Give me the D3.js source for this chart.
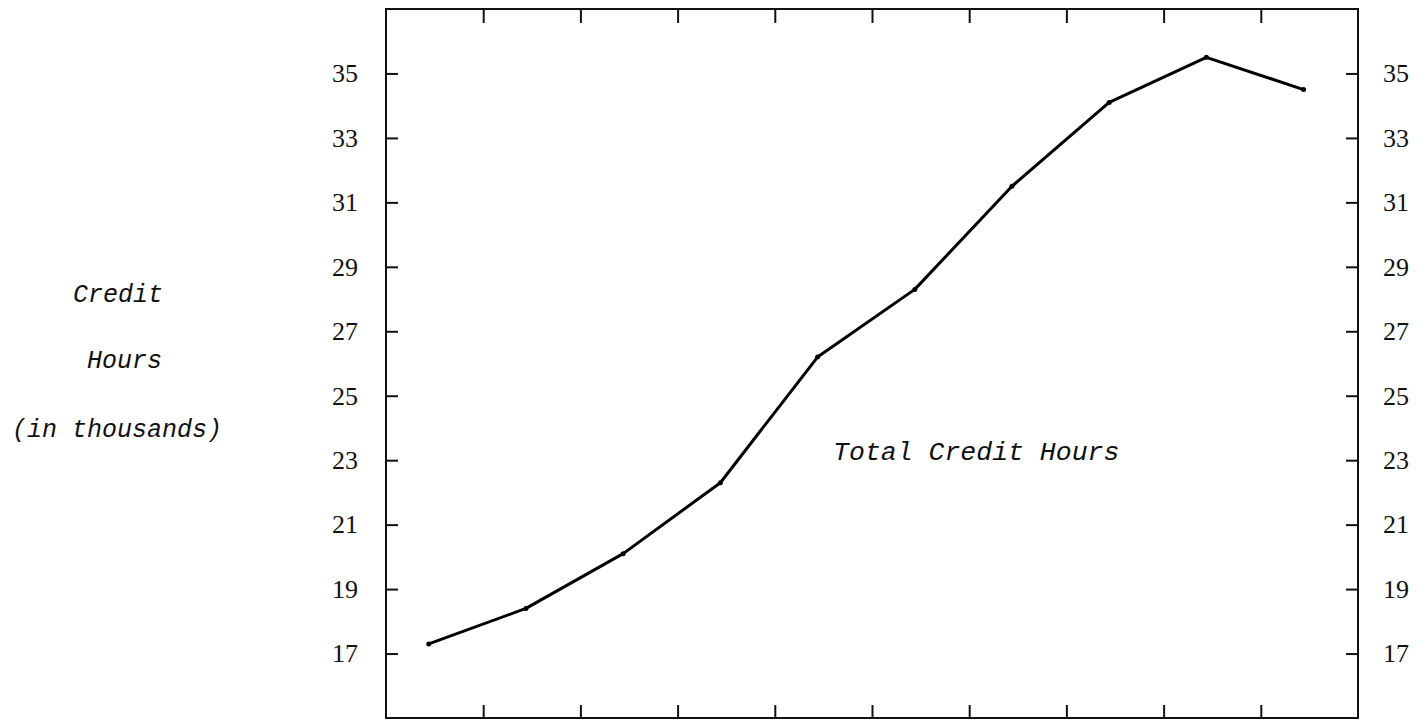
<!DOCTYPE html>
<html>
<head>
<meta charset="utf-8">
<script src="https://cdn.jsdelivr.net/npm/d3@7"></script>
<style>
  html, body { margin: 0; padding: 0; background: #fff; }
  svg { display: block; }
</style>
</head>
<body>
<svg id="chart" width="1427" height="721"></svg>
<script>
// ---- data ----
const categories = ["1", "2", "3", "4", "5", "6", "7", "8", "9", "10"];
const creditHours = [17.3, 18.4, 20.1, 22.3, 26.2, 28.3, 31.5, 34.1, 35.5, 34.5]; // thousands
const yTickValues = [17, 19, 21, 23, 25, 27, 29, 31, 33, 35];
const xTickValues = [1, 2, 3, 4, 5, 6, 7, 8, 9];
const axisTitleLines = ["Credit", "Hours", "(in thousands)"];
const seriesLabel = "Total Credit Hours";

// ---- layout ----
const plot = { left: 386, right: 1358, top: 9, bottom: 718 };
const svg = d3.select("#chart");

const x = d3.scaleLinear().domain([0, categories.length]).range([plot.left, plot.right]);
const y = d3.scaleLinear().domain([15, 37]).range([plot.bottom, plot.top]);
const xPos = (d, i) => x(i + 0.44);

const tickFont = "'Liberation Serif', 'Times New Roman', serif";
const monoFont = "'Liberation Mono', 'Courier New', monospace";

// frame
svg.append("rect")
  .attr("x", plot.left).attr("y", plot.top)
  .attr("width", plot.right - plot.left).attr("height", plot.bottom - plot.top)
  .attr("fill", "none").attr("stroke", "#111").attr("stroke-width", 2);

// axes
const leftAxis = d3.axisLeft(y).tickValues(yTickValues).tickSizeInner(-12).tickSizeOuter(0).tickPadding(28);
const gL = svg.append("g").attr("transform", `translate(${plot.left},0)`).call(leftAxis);
const rightAxis = d3.axisRight(y).tickValues(yTickValues).tickSizeInner(-12).tickSizeOuter(0).tickPadding(25);
const gR = svg.append("g").attr("transform", `translate(${plot.right},0)`).call(rightAxis);
const topAxis = d3.axisTop(x).tickValues(xTickValues).tickSizeInner(-14).tickSizeOuter(0).tickFormat("");
const gT = svg.append("g").attr("transform", `translate(0,${plot.top})`).call(topAxis);
const bottomAxis = d3.axisBottom(x).tickValues(xTickValues).tickSizeInner(-13).tickSizeOuter(0).tickFormat("");
const gB = svg.append("g").attr("transform", `translate(0,${plot.bottom})`).call(bottomAxis);

[gL, gR, gT, gB].forEach(g => {
  g.select(".domain").remove();
  g.selectAll(".tick line").attr("stroke", "#111").attr("stroke-width", 2);
  g.selectAll(".tick text")
    .attr("fill", "#111")
    .style("font-family", tickFont)
    .style("font-size", "26px");
});

// data line
const line = d3.line().x((d, i) => xPos(d, i)).y(d => y(d));
svg.append("path")
  .datum(creditHours)
  .attr("d", line)
  .attr("fill", "none")
  .attr("stroke", "#000")
  .attr("stroke-width", 3)
  .attr("stroke-linejoin", "round");

svg.selectAll("circle.pt")
  .data(creditHours)
  .join("circle")
  .attr("class", "pt")
  .attr("cx", (d, i) => xPos(d, i))
  .attr("cy", d => y(d))
  .attr("r", 2.5)
  .attr("fill", "#000");

// series label
svg.append("text")
  .attr("x", x(4.6)).attr("y", y(23))
  .style("font-family", monoFont)
  .style("font-style", "italic")
  .style("font-size", "26.5px")
  .attr("fill", "#111")
  .text(seriesLabel);

// axis title (three lines)
const titleBase = [y(27.9), y(25.86), y(23.72)];
const titleRight = [163, 162, 222];
svg.append("g").selectAll("text")
  .data(axisTitleLines)
  .join("text")
  .attr("x", (d, i) => titleRight[i])
  .attr("y", (d, i) => titleBase[i])
  .attr("text-anchor", "end")
  .style("font-family", monoFont)
  .style("font-style", "italic")
  .style("font-size", "25px")
  .attr("fill", "#111")
  .text(d => d);
</script>
</body>
</html>
